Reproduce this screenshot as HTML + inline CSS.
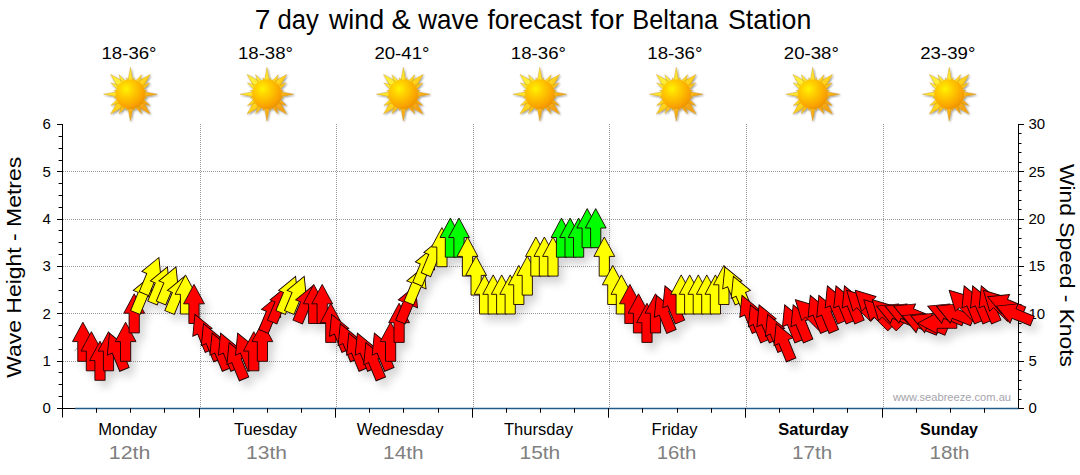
<!DOCTYPE html><html><head><meta charset="utf-8"><title>7 day wind &amp; wave forecast</title>
<style>html,body{margin:0;padding:0;background:#fff;}svg{display:block;font-family:"Liberation Sans",sans-serif;}</style></head><body>
<svg width="1080" height="475" viewBox="0 0 1080 475">
<defs>
<radialGradient id="sg" cx="0.36" cy="0.32" r="0.75"><stop offset="0" stop-color="#fff200"/><stop offset="0.35" stop-color="#ffcc00"/><stop offset="0.8" stop-color="#f9a200"/><stop offset="1" stop-color="#e88e00"/></radialGradient>
<linearGradient id="rg" x1="0" y1="0" x2="1" y2="1"><stop offset="0.25" stop-color="#ffee38"/><stop offset="0.5" stop-color="#ffd21e"/><stop offset="0.74" stop-color="#f5a316"/></linearGradient>
<filter id="sh" x="-30%" y="-30%" width="180%" height="180%"><feGaussianBlur in="SourceAlpha" stdDeviation="4.2"/><feOffset dx="5" dy="7" result="b"/><feComponentTransfer><feFuncA type="linear" slope="0.17"/></feComponentTransfer></filter>
<filter id="ssh" x="-30%" y="-30%" width="160%" height="160%"><feGaussianBlur in="SourceAlpha" stdDeviation="0.8"/><feOffset dx="0.8" dy="0.8"/><feComponentTransfer><feFuncA type="linear" slope="0.45"/></feComponentTransfer><feMerge><feMergeNode/><feMergeNode in="SourceGraphic"/></feMerge></filter>
<g id="sun"><g filter="url(#ssh)"><path d="M-2.50 -13.00L0.00 -26.80L2.50 -13.00ZM1.66 -12.96L3.82 -16.56L4.19 -12.37ZM4.42 -12.46L11.30 -19.57L8.58 -10.06ZM6.29 -12.09L19.80 -19.80L12.09 -6.29ZM10.06 -8.58L19.57 -11.30L12.46 -4.42ZM12.37 -4.19L16.56 -3.82L12.96 -1.66ZM13.00 -2.50L26.80 -0.00L13.00 2.50ZM12.96 1.66L16.56 3.82L12.37 4.19ZM12.46 4.42L19.57 11.30L10.06 8.58ZM12.09 6.29L19.80 19.80L6.29 12.09ZM8.58 10.06L11.30 19.57L4.42 12.46ZM4.19 12.37L3.82 16.56L1.66 12.96ZM2.50 13.00L0.00 26.80L-2.50 13.00ZM-1.66 12.96L-3.82 16.56L-4.19 12.37ZM-4.42 12.46L-11.30 19.57L-8.58 10.06ZM-6.29 12.09L-19.80 19.80L-12.09 6.29ZM-10.06 8.58L-19.57 11.30L-12.46 4.42ZM-12.37 4.19L-16.56 3.82L-12.96 1.66ZM-13.00 2.50L-26.80 0.00L-13.00 -2.50ZM-12.96 -1.66L-16.56 -3.82L-12.37 -4.19ZM-12.46 -4.42L-19.57 -11.30L-10.06 -8.58ZM-12.09 -6.29L-19.80 -19.80L-6.29 -12.09ZM-8.58 -10.06L-11.30 -19.57L-4.42 -12.46ZM-4.19 -12.37L-3.82 -16.56L-1.66 -12.96Z" fill="url(#rg)" stroke="#c98a00" stroke-width="0.35"/><circle cx="0" cy="0" r="14.8" fill="url(#sg)"/></g></g>
<path id="ar" d="M0 -19.9L10.4 -0.5L5.1 -0.5L5.1 19.2L-5.1 19.2L-5.1 -0.5L-10.4 -0.5Z"/>
</defs>
<rect width="1080" height="475" fill="#fff"/>
<text transform="translate(254.75 29.3) scale(1.0462 1)" font-size="27" fill="#000">7</text>
<text transform="translate(277.55 29.3) scale(0.9512 1)" font-size="27" fill="#000">day</text>
<text transform="translate(328.90 29.3) scale(0.9944 1)" font-size="27" fill="#000">wind</text>
<text transform="translate(391.54 29.3) scale(1.0647 1)" font-size="27" fill="#000">&amp;</text>
<text transform="translate(418.30 29.3) scale(0.9629 1)" font-size="27" fill="#000">wave</text>
<text transform="translate(487.50 29.3) scale(0.9823 1)" font-size="27" fill="#000">forecast</text>
<text transform="translate(590.60 29.3) scale(1.0613 1)" font-size="27" fill="#000">for</text>
<text transform="translate(632.32 29.3) scale(0.9378 1)" font-size="27" fill="#000">Beltana</text>
<text transform="translate(728.01 29.3) scale(0.9914 1)" font-size="27" fill="#000">Station</text>
<text transform="translate(101.47 58.9) scale(1.1298 1)" font-size="16.5" fill="#000">18-36°</text>
<use href="#sun" x="130.4" y="94.2"/>
<text transform="translate(237.93 58.9) scale(1.1298 1)" font-size="16.5" fill="#000">18-38°</text>
<use href="#sun" x="266.9" y="94.2"/>
<text transform="translate(374.39 58.9) scale(1.1298 1)" font-size="16.5" fill="#000">20-41°</text>
<use href="#sun" x="403.3" y="94.2"/>
<text transform="translate(510.85 58.9) scale(1.1298 1)" font-size="16.5" fill="#000">18-36°</text>
<use href="#sun" x="539.8" y="94.2"/>
<text transform="translate(647.31 58.9) scale(1.1298 1)" font-size="16.5" fill="#000">18-36°</text>
<use href="#sun" x="676.2" y="94.2"/>
<text transform="translate(783.77 58.9) scale(1.1298 1)" font-size="16.5" fill="#000">20-38°</text>
<use href="#sun" x="812.7" y="94.2"/>
<text transform="translate(920.23 58.9) scale(1.1298 1)" font-size="16.5" fill="#000">23-39°</text>
<use href="#sun" x="949.2" y="94.2"/>
<line x1="63.0" y1="361.5" x2="1019.0" y2="361.5" stroke="#999" stroke-width="1" stroke-dasharray="1 1"/>
<line x1="63.0" y1="313.5" x2="1019.0" y2="313.5" stroke="#999" stroke-width="1" stroke-dasharray="1 1"/>
<line x1="63.0" y1="266.5" x2="1019.0" y2="266.5" stroke="#999" stroke-width="1" stroke-dasharray="1 1"/>
<line x1="63.0" y1="219.5" x2="1019.0" y2="219.5" stroke="#999" stroke-width="1" stroke-dasharray="1 1"/>
<line x1="63.0" y1="171.5" x2="1019.0" y2="171.5" stroke="#999" stroke-width="1" stroke-dasharray="1 1"/>
<line x1="200.5" y1="124" x2="200.5" y2="408.0" stroke="#999" stroke-width="1" stroke-dasharray="1 1"/>
<line x1="336.5" y1="124" x2="336.5" y2="408.0" stroke="#999" stroke-width="1" stroke-dasharray="1 1"/>
<line x1="473.5" y1="124" x2="473.5" y2="408.0" stroke="#999" stroke-width="1" stroke-dasharray="1 1"/>
<line x1="609.5" y1="124" x2="609.5" y2="408.0" stroke="#999" stroke-width="1" stroke-dasharray="1 1"/>
<line x1="746.5" y1="124" x2="746.5" y2="408.0" stroke="#999" stroke-width="1" stroke-dasharray="1 1"/>
<line x1="883.5" y1="124" x2="883.5" y2="408.0" stroke="#999" stroke-width="1" stroke-dasharray="1 1"/>
<line x1="75" y1="408.5" x2="1019.0" y2="408.5" stroke="#1f5c8a" stroke-width="1.4"/>
<path d="M62.5 124V417.5M57 408.5H75M1018.5 124V408.5M57 408.5H62.5M58.6 396.5H62.5M58.6 384.5H62.5M58.6 372.5H62.5M57 361.5H62.5M58.6 349.5H62.5M58.6 337.5H62.5M58.6 325.5H62.5M57 313.5H62.5M58.6 302.5H62.5M58.6 290.5H62.5M58.6 278.5H62.5M57 266.5H62.5M58.6 254.5H62.5M58.6 242.5H62.5M58.6 230.5H62.5M57 219.5H62.5M58.6 207.5H62.5M58.6 195.5H62.5M58.6 183.5H62.5M57 171.5H62.5M58.6 160.5H62.5M58.6 148.5H62.5M58.6 136.5H62.5M57 124.5H62.5M1018.5 408.5H1024M1018.5 399.5H1021.5M1018.5 389.5H1021.5M1018.5 380.5H1021.5M1018.5 370.5H1021.5M1018.5 361.5H1024M1018.5 351.5H1021.5M1018.5 342.5H1021.5M1018.5 332.5H1021.5M1018.5 323.5H1021.5M1018.5 313.5H1024M1018.5 304.5H1021.5M1018.5 294.5H1021.5M1018.5 285.5H1021.5M1018.5 275.5H1021.5M1018.5 266.5H1024M1018.5 257.5H1021.5M1018.5 247.5H1021.5M1018.5 238.5H1021.5M1018.5 228.5H1021.5M1018.5 219.5H1024M1018.5 209.5H1021.5M1018.5 200.5H1021.5M1018.5 190.5H1021.5M1018.5 181.5H1021.5M1018.5 171.5H1024M1018.5 162.5H1021.5M1018.5 152.5H1021.5M1018.5 143.5H1021.5M1018.5 133.5H1021.5M1018.5 124.5H1024M96.5 408V412.8M130.5 408V412.8M164.5 408V412.8M199.5 408V417.7M233.5 408V412.8M267.5 408V412.8M301.5 408V412.8M335.5 408V417.7M369.5 408V412.8M403.5 408V412.8M438.5 408V412.8M472.5 408V417.7M506.5 408V412.8M540.5 408V412.8M574.5 408V412.8M608.5 408V417.7M642.5 408V412.8M677.5 408V412.8M711.5 408V412.8M745.5 408V417.7M779.5 408V412.8M813.5 408V412.8M847.5 408V412.8M882.5 408V417.7M916.5 408V412.8M950.5 408V412.8M984.5 408V412.8" stroke="#000" stroke-width="1" fill="none"/>
<text x="50.8" y="413.3" font-size="15" text-anchor="end" fill="#000">0</text>
<text x="50.8" y="366.0" font-size="15" text-anchor="end" fill="#000">1</text>
<text x="50.8" y="318.6" font-size="15" text-anchor="end" fill="#000">2</text>
<text x="50.8" y="271.3" font-size="15" text-anchor="end" fill="#000">3</text>
<text x="50.8" y="224.0" font-size="15" text-anchor="end" fill="#000">4</text>
<text x="50.8" y="176.6" font-size="15" text-anchor="end" fill="#000">5</text>
<text x="50.8" y="129.3" font-size="15" text-anchor="end" fill="#000">6</text>
<text x="1028.5" y="413.3" font-size="15" fill="#000">0</text>
<text x="1028.5" y="366.0" font-size="15" fill="#000">5</text>
<text x="1028.5" y="318.6" font-size="15" fill="#000">10</text>
<text x="1028.5" y="271.3" font-size="15" fill="#000">15</text>
<text x="1028.5" y="224.0" font-size="15" fill="#000">20</text>
<text x="1028.5" y="176.6" font-size="15" fill="#000">25</text>
<text x="1028.5" y="129.3" font-size="15" fill="#000">30</text>
<text transform="translate(20.5 377.8) rotate(-90)" font-size="20" textLength="221" lengthAdjust="spacingAndGlyphs" fill="#000">Wave Height - Metres</text>
<text transform="translate(1060 164) rotate(90)" font-size="20" textLength="203" lengthAdjust="spacingAndGlyphs" fill="#000">Wind Speed - Knots</text>
<text x="893" y="400.6" font-size="11" textLength="118" lengthAdjust="spacingAndGlyphs" fill="#a4a4ac">www.seabreeze.com.au</text>
<text transform="translate(98.26 434.5) scale(1.0357 1)" font-size="16" fill="#000">Monday</text>
<text transform="translate(108.78 458.7) scale(1.2188 1)" font-size="17.5" fill="#808080">12th</text>
<text transform="translate(234.00 434.5) scale(1.0377 1)" font-size="16" fill="#000">Tuesday</text>
<text transform="translate(246.10 458.7) scale(1.2000 1)" font-size="17.5" fill="#808080">13th</text>
<text transform="translate(356.70 434.5) scale(1.0310 1)" font-size="16" fill="#000">Wednesday</text>
<text transform="translate(383.11 458.7) scale(1.1875 1)" font-size="17.5" fill="#808080">14th</text>
<text transform="translate(504.00 434.5) scale(1.0343 1)" font-size="16" fill="#000">Thursday</text>
<text transform="translate(519.50 458.7) scale(1.1969 1)" font-size="17.5" fill="#808080">15th</text>
<text transform="translate(651.57 434.5) scale(1.0341 1)" font-size="16" fill="#000">Friday</text>
<text transform="translate(656.63 458.7) scale(1.1656 1)" font-size="17.5" fill="#808080">16th</text>
<text transform="translate(778.27 434.5) scale(1.0299 1)" font-size="16" font-weight="bold" fill="#000">Saturday</text>
<text transform="translate(792.12 458.7) scale(1.1781 1)" font-size="17.5" fill="#808080">17th</text>
<text transform="translate(919.99 434.5) scale(1.0053 1)" font-size="16" font-weight="bold" fill="#000">Sunday</text>
<text transform="translate(929.53 458.7) scale(1.1750 1)" font-size="17.5" fill="#808080">18th</text>
<g filter="url(#sh)">
<use href="#ar" transform="translate(82.9 342.1) rotate(0)" fill="#000"/>
<use href="#ar" transform="translate(91.4 351.6) rotate(0)" fill="#000"/>
<use href="#ar" transform="translate(100.0 361.1) rotate(0)" fill="#000"/>
<use href="#ar" transform="translate(108.5 351.6) rotate(0)" fill="#000"/>
<use href="#ar" transform="translate(117.1 351.6) rotate(-22.5)" fill="#000"/>
<use href="#ar" transform="translate(125.6 342.1) rotate(0)" fill="#000"/>
<use href="#ar" transform="translate(134.2 313.7) rotate(0)" fill="#000"/>
<use href="#ar" transform="translate(142.7 294.8) rotate(22.5)" fill="#000"/>
<use href="#ar" transform="translate(151.3 275.9) rotate(22.5)" fill="#000"/>
<use href="#ar" transform="translate(159.8 285.3) rotate(22.5)" fill="#000"/>
<use href="#ar" transform="translate(168.4 285.3) rotate(22.5)" fill="#000"/>
<use href="#ar" transform="translate(176.9 294.8) rotate(22.5)" fill="#000"/>
<use href="#ar" transform="translate(185.5 294.8) rotate(0)" fill="#000"/>
<use href="#ar" transform="translate(194.0 304.3) rotate(0)" fill="#000"/>
<use href="#ar" transform="translate(202.6 332.7) rotate(-22.5)" fill="#000"/>
<use href="#ar" transform="translate(211.1 342.1) rotate(-22.5)" fill="#000"/>
<use href="#ar" transform="translate(219.7 351.6) rotate(-22.5)" fill="#000"/>
<use href="#ar" transform="translate(228.2 351.6) rotate(-22.5)" fill="#000"/>
<use href="#ar" transform="translate(236.7 361.1) rotate(-22.5)" fill="#000"/>
<use href="#ar" transform="translate(245.3 351.6) rotate(-22.5)" fill="#000"/>
<use href="#ar" transform="translate(253.8 351.6) rotate(0)" fill="#000"/>
<use href="#ar" transform="translate(262.4 342.1) rotate(0)" fill="#000"/>
<use href="#ar" transform="translate(270.9 313.7) rotate(22.5)" fill="#000"/>
<use href="#ar" transform="translate(279.5 304.3) rotate(22.5)" fill="#000"/>
<use href="#ar" transform="translate(288.0 294.8) rotate(22.5)" fill="#000"/>
<use href="#ar" transform="translate(296.6 294.8) rotate(22.5)" fill="#000"/>
<use href="#ar" transform="translate(305.1 304.3) rotate(22.5)" fill="#000"/>
<use href="#ar" transform="translate(313.7 304.3) rotate(0)" fill="#000"/>
<use href="#ar" transform="translate(322.2 304.3) rotate(0)" fill="#000"/>
<use href="#ar" transform="translate(330.8 323.2) rotate(0)" fill="#000"/>
<use href="#ar" transform="translate(339.3 332.7) rotate(-22.5)" fill="#000"/>
<use href="#ar" transform="translate(347.9 342.1) rotate(-22.5)" fill="#000"/>
<use href="#ar" transform="translate(356.4 351.6) rotate(-22.5)" fill="#000"/>
<use href="#ar" transform="translate(365.0 351.6) rotate(-22.5)" fill="#000"/>
<use href="#ar" transform="translate(373.5 361.1) rotate(-22.5)" fill="#000"/>
<use href="#ar" transform="translate(382.0 351.6) rotate(-22.5)" fill="#000"/>
<use href="#ar" transform="translate(390.6 342.1) rotate(0)" fill="#000"/>
<use href="#ar" transform="translate(399.1 323.2) rotate(0)" fill="#000"/>
<use href="#ar" transform="translate(407.7 304.3) rotate(22.5)" fill="#000"/>
<use href="#ar" transform="translate(416.2 285.3) rotate(22.5)" fill="#000"/>
<use href="#ar" transform="translate(424.8 266.4) rotate(22.5)" fill="#000"/>
<use href="#ar" transform="translate(433.3 256.9) rotate(22.5)" fill="#000"/>
<use href="#ar" transform="translate(441.9 247.5) rotate(0)" fill="#000"/>
<use href="#ar" transform="translate(450.4 238.0) rotate(0)" fill="#000"/>
<use href="#ar" transform="translate(459.0 238.0) rotate(0)" fill="#000"/>
<use href="#ar" transform="translate(467.5 256.9) rotate(0)" fill="#000"/>
<use href="#ar" transform="translate(476.1 275.9) rotate(0)" fill="#000"/>
<use href="#ar" transform="translate(484.6 294.8) rotate(0)" fill="#000"/>
<use href="#ar" transform="translate(493.2 294.8) rotate(0)" fill="#000"/>
<use href="#ar" transform="translate(501.7 294.8) rotate(0)" fill="#000"/>
<use href="#ar" transform="translate(510.2 294.8) rotate(0)" fill="#000"/>
<use href="#ar" transform="translate(518.8 285.3) rotate(0)" fill="#000"/>
<use href="#ar" transform="translate(527.3 275.9) rotate(0)" fill="#000"/>
<use href="#ar" transform="translate(535.9 256.9) rotate(0)" fill="#000"/>
<use href="#ar" transform="translate(544.4 256.9) rotate(0)" fill="#000"/>
<use href="#ar" transform="translate(553.0 256.9) rotate(0)" fill="#000"/>
<use href="#ar" transform="translate(561.5 238.0) rotate(0)" fill="#000"/>
<use href="#ar" transform="translate(570.1 238.0) rotate(0)" fill="#000"/>
<use href="#ar" transform="translate(578.6 238.0) rotate(0)" fill="#000"/>
<use href="#ar" transform="translate(587.2 228.5) rotate(0)" fill="#000"/>
<use href="#ar" transform="translate(595.7 228.5) rotate(0)" fill="#000"/>
<use href="#ar" transform="translate(604.3 256.9) rotate(0)" fill="#000"/>
<use href="#ar" transform="translate(612.8 285.3) rotate(0)" fill="#000"/>
<use href="#ar" transform="translate(621.4 294.8) rotate(0)" fill="#000"/>
<use href="#ar" transform="translate(629.9 304.3) rotate(0)" fill="#000"/>
<use href="#ar" transform="translate(638.5 313.7) rotate(0)" fill="#000"/>
<use href="#ar" transform="translate(647.0 323.2) rotate(0)" fill="#000"/>
<use href="#ar" transform="translate(655.5 313.7) rotate(0)" fill="#000"/>
<use href="#ar" transform="translate(664.1 313.7) rotate(-22.5)" fill="#000"/>
<use href="#ar" transform="translate(672.6 304.3) rotate(-22.5)" fill="#000"/>
<use href="#ar" transform="translate(681.2 294.8) rotate(0)" fill="#000"/>
<use href="#ar" transform="translate(689.7 294.8) rotate(0)" fill="#000"/>
<use href="#ar" transform="translate(698.3 294.8) rotate(0)" fill="#000"/>
<use href="#ar" transform="translate(706.8 294.8) rotate(0)" fill="#000"/>
<use href="#ar" transform="translate(715.4 294.8) rotate(0)" fill="#000"/>
<use href="#ar" transform="translate(723.9 285.3) rotate(0)" fill="#000"/>
<use href="#ar" transform="translate(732.5 285.3) rotate(-22.5)" fill="#000"/>
<use href="#ar" transform="translate(741.0 294.8) rotate(-22.5)" fill="#000"/>
<use href="#ar" transform="translate(749.6 313.7) rotate(-22.5)" fill="#000"/>
<use href="#ar" transform="translate(758.1 323.2) rotate(-22.5)" fill="#000"/>
<use href="#ar" transform="translate(766.7 323.2) rotate(-22.5)" fill="#000"/>
<use href="#ar" transform="translate(775.2 332.7) rotate(-22.5)" fill="#000"/>
<use href="#ar" transform="translate(783.8 342.1) rotate(-22.5)" fill="#000"/>
<use href="#ar" transform="translate(792.3 323.2) rotate(-22.5)" fill="#000"/>
<use href="#ar" transform="translate(800.8 323.2) rotate(-22.5)" fill="#000"/>
<use href="#ar" transform="translate(809.4 313.7) rotate(-45)" fill="#000"/>
<use href="#ar" transform="translate(817.9 313.7) rotate(-22.5)" fill="#000"/>
<use href="#ar" transform="translate(826.5 313.7) rotate(-22.5)" fill="#000"/>
<use href="#ar" transform="translate(835.0 304.3) rotate(-22.5)" fill="#000"/>
<use href="#ar" transform="translate(843.6 304.3) rotate(-22.5)" fill="#000"/>
<use href="#ar" transform="translate(852.1 304.3) rotate(-22.5)" fill="#000"/>
<use href="#ar" transform="translate(860.7 304.3) rotate(-45)" fill="#000"/>
<use href="#ar" transform="translate(869.2 304.3) rotate(-45)" fill="#000"/>
<use href="#ar" transform="translate(877.8 313.7) rotate(-45)" fill="#000"/>
<use href="#ar" transform="translate(886.3 313.7) rotate(-45)" fill="#000"/>
<use href="#ar" transform="translate(894.9 313.7) rotate(-67.5)" fill="#000"/>
<use href="#ar" transform="translate(903.4 313.7) rotate(-67.5)" fill="#000"/>
<use href="#ar" transform="translate(912.0 313.7) rotate(-67.5)" fill="#000"/>
<use href="#ar" transform="translate(920.5 323.2) rotate(-67.5)" fill="#000"/>
<use href="#ar" transform="translate(929.1 323.2) rotate(-67.5)" fill="#000"/>
<use href="#ar" transform="translate(937.6 323.2) rotate(-90)" fill="#000"/>
<use href="#ar" transform="translate(946.1 313.7) rotate(-67.5)" fill="#000"/>
<use href="#ar" transform="translate(954.7 313.7) rotate(-67.5)" fill="#000"/>
<use href="#ar" transform="translate(963.2 304.3) rotate(-45)" fill="#000"/>
<use href="#ar" transform="translate(971.8 304.3) rotate(-22.5)" fill="#000"/>
<use href="#ar" transform="translate(980.3 304.3) rotate(-22.5)" fill="#000"/>
<use href="#ar" transform="translate(988.9 304.3) rotate(-22.5)" fill="#000"/>
<use href="#ar" transform="translate(997.4 304.3) rotate(-45)" fill="#000"/>
<use href="#ar" transform="translate(1006.0 304.3) rotate(-67.5)" fill="#000"/>
<use href="#ar" transform="translate(1014.5 313.7) rotate(-67.5)" fill="#000"/>
</g>
<path d="M74.6 351.2L77.6 347.4" stroke="#8a8a8a" stroke-width="0.7" fill="none"/>
<g stroke="#1a0000" stroke-width="0.9" stroke-linejoin="miter">
<use href="#ar" transform="translate(82.9 342.1) rotate(0)" fill="#ff0000"/>
<use href="#ar" transform="translate(91.4 351.6) rotate(0)" fill="#ff0000"/>
<use href="#ar" transform="translate(100.0 361.1) rotate(0)" fill="#ff0000"/>
<use href="#ar" transform="translate(108.5 351.6) rotate(0)" fill="#ff0000"/>
<use href="#ar" transform="translate(117.1 351.6) rotate(-22.5)" fill="#ff0000"/>
<use href="#ar" transform="translate(125.6 342.1) rotate(0)" fill="#ff0000"/>
<use href="#ar" transform="translate(134.2 313.7) rotate(0)" fill="#ff0000"/>
<use href="#ar" transform="translate(142.7 294.8) rotate(22.5)" fill="#ffff00"/>
<use href="#ar" transform="translate(151.3 275.9) rotate(22.5)" fill="#ffff00"/>
<use href="#ar" transform="translate(159.8 285.3) rotate(22.5)" fill="#ffff00"/>
<use href="#ar" transform="translate(168.4 285.3) rotate(22.5)" fill="#ffff00"/>
<use href="#ar" transform="translate(176.9 294.8) rotate(22.5)" fill="#ffff00"/>
<use href="#ar" transform="translate(185.5 294.8) rotate(0)" fill="#ffff00"/>
<use href="#ar" transform="translate(194.0 304.3) rotate(0)" fill="#ff0000"/>
<use href="#ar" transform="translate(202.6 332.7) rotate(-22.5)" fill="#ff0000"/>
<use href="#ar" transform="translate(211.1 342.1) rotate(-22.5)" fill="#ff0000"/>
<use href="#ar" transform="translate(219.7 351.6) rotate(-22.5)" fill="#ff0000"/>
<use href="#ar" transform="translate(228.2 351.6) rotate(-22.5)" fill="#ff0000"/>
<use href="#ar" transform="translate(236.7 361.1) rotate(-22.5)" fill="#ff0000"/>
<use href="#ar" transform="translate(245.3 351.6) rotate(-22.5)" fill="#ff0000"/>
<use href="#ar" transform="translate(253.8 351.6) rotate(0)" fill="#ff0000"/>
<use href="#ar" transform="translate(262.4 342.1) rotate(0)" fill="#ff0000"/>
<use href="#ar" transform="translate(270.9 313.7) rotate(22.5)" fill="#ff0000"/>
<use href="#ar" transform="translate(279.5 304.3) rotate(22.5)" fill="#ff0000"/>
<use href="#ar" transform="translate(288.0 294.8) rotate(22.5)" fill="#ffff00"/>
<use href="#ar" transform="translate(296.6 294.8) rotate(22.5)" fill="#ffff00"/>
<use href="#ar" transform="translate(305.1 304.3) rotate(22.5)" fill="#ff0000"/>
<use href="#ar" transform="translate(313.7 304.3) rotate(0)" fill="#ff0000"/>
<use href="#ar" transform="translate(322.2 304.3) rotate(0)" fill="#ff0000"/>
<use href="#ar" transform="translate(330.8 323.2) rotate(0)" fill="#ff0000"/>
<use href="#ar" transform="translate(339.3 332.7) rotate(-22.5)" fill="#ff0000"/>
<use href="#ar" transform="translate(347.9 342.1) rotate(-22.5)" fill="#ff0000"/>
<use href="#ar" transform="translate(356.4 351.6) rotate(-22.5)" fill="#ff0000"/>
<use href="#ar" transform="translate(365.0 351.6) rotate(-22.5)" fill="#ff0000"/>
<use href="#ar" transform="translate(373.5 361.1) rotate(-22.5)" fill="#ff0000"/>
<use href="#ar" transform="translate(382.0 351.6) rotate(-22.5)" fill="#ff0000"/>
<use href="#ar" transform="translate(390.6 342.1) rotate(0)" fill="#ff0000"/>
<use href="#ar" transform="translate(399.1 323.2) rotate(0)" fill="#ff0000"/>
<use href="#ar" transform="translate(407.7 304.3) rotate(22.5)" fill="#ff0000"/>
<use href="#ar" transform="translate(416.2 285.3) rotate(22.5)" fill="#ffff00"/>
<use href="#ar" transform="translate(424.8 266.4) rotate(22.5)" fill="#ffff00"/>
<use href="#ar" transform="translate(433.3 256.9) rotate(22.5)" fill="#ffff00"/>
<use href="#ar" transform="translate(441.9 247.5) rotate(0)" fill="#ffff00"/>
<use href="#ar" transform="translate(450.4 238.0) rotate(0)" fill="#00ff00"/>
<use href="#ar" transform="translate(459.0 238.0) rotate(0)" fill="#00ff00"/>
<use href="#ar" transform="translate(467.5 256.9) rotate(0)" fill="#ffff00"/>
<use href="#ar" transform="translate(476.1 275.9) rotate(0)" fill="#ffff00"/>
<use href="#ar" transform="translate(484.6 294.8) rotate(0)" fill="#ffff00"/>
<use href="#ar" transform="translate(493.2 294.8) rotate(0)" fill="#ffff00"/>
<use href="#ar" transform="translate(501.7 294.8) rotate(0)" fill="#ffff00"/>
<use href="#ar" transform="translate(510.2 294.8) rotate(0)" fill="#ffff00"/>
<use href="#ar" transform="translate(518.8 285.3) rotate(0)" fill="#ffff00"/>
<use href="#ar" transform="translate(527.3 275.9) rotate(0)" fill="#ffff00"/>
<use href="#ar" transform="translate(535.9 256.9) rotate(0)" fill="#ffff00"/>
<use href="#ar" transform="translate(544.4 256.9) rotate(0)" fill="#ffff00"/>
<use href="#ar" transform="translate(553.0 256.9) rotate(0)" fill="#ffff00"/>
<use href="#ar" transform="translate(561.5 238.0) rotate(0)" fill="#00ff00"/>
<use href="#ar" transform="translate(570.1 238.0) rotate(0)" fill="#00ff00"/>
<use href="#ar" transform="translate(578.6 238.0) rotate(0)" fill="#00ff00"/>
<use href="#ar" transform="translate(587.2 228.5) rotate(0)" fill="#00ff00"/>
<use href="#ar" transform="translate(595.7 228.5) rotate(0)" fill="#00ff00"/>
<use href="#ar" transform="translate(604.3 256.9) rotate(0)" fill="#ffff00"/>
<use href="#ar" transform="translate(612.8 285.3) rotate(0)" fill="#ffff00"/>
<use href="#ar" transform="translate(621.4 294.8) rotate(0)" fill="#ffff00"/>
<use href="#ar" transform="translate(629.9 304.3) rotate(0)" fill="#ff0000"/>
<use href="#ar" transform="translate(638.5 313.7) rotate(0)" fill="#ff0000"/>
<use href="#ar" transform="translate(647.0 323.2) rotate(0)" fill="#ff0000"/>
<use href="#ar" transform="translate(655.5 313.7) rotate(0)" fill="#ff0000"/>
<use href="#ar" transform="translate(664.1 313.7) rotate(-22.5)" fill="#ff0000"/>
<use href="#ar" transform="translate(672.6 304.3) rotate(-22.5)" fill="#ff0000"/>
<use href="#ar" transform="translate(681.2 294.8) rotate(0)" fill="#ffff00"/>
<use href="#ar" transform="translate(689.7 294.8) rotate(0)" fill="#ffff00"/>
<use href="#ar" transform="translate(698.3 294.8) rotate(0)" fill="#ffff00"/>
<use href="#ar" transform="translate(706.8 294.8) rotate(0)" fill="#ffff00"/>
<use href="#ar" transform="translate(715.4 294.8) rotate(0)" fill="#ffff00"/>
<use href="#ar" transform="translate(723.9 285.3) rotate(0)" fill="#ffff00"/>
<use href="#ar" transform="translate(732.5 285.3) rotate(-22.5)" fill="#ffff00"/>
<use href="#ar" transform="translate(741.0 294.8) rotate(-22.5)" fill="#ffff00"/>
<use href="#ar" transform="translate(749.6 313.7) rotate(-22.5)" fill="#ff0000"/>
<use href="#ar" transform="translate(758.1 323.2) rotate(-22.5)" fill="#ff0000"/>
<use href="#ar" transform="translate(766.7 323.2) rotate(-22.5)" fill="#ff0000"/>
<use href="#ar" transform="translate(775.2 332.7) rotate(-22.5)" fill="#ff0000"/>
<use href="#ar" transform="translate(783.8 342.1) rotate(-22.5)" fill="#ff0000"/>
<use href="#ar" transform="translate(792.3 323.2) rotate(-22.5)" fill="#ff0000"/>
<use href="#ar" transform="translate(800.8 323.2) rotate(-22.5)" fill="#ff0000"/>
<use href="#ar" transform="translate(809.4 313.7) rotate(-45)" fill="#ff0000"/>
<use href="#ar" transform="translate(817.9 313.7) rotate(-22.5)" fill="#ff0000"/>
<use href="#ar" transform="translate(826.5 313.7) rotate(-22.5)" fill="#ff0000"/>
<use href="#ar" transform="translate(835.0 304.3) rotate(-22.5)" fill="#ff0000"/>
<use href="#ar" transform="translate(843.6 304.3) rotate(-22.5)" fill="#ff0000"/>
<use href="#ar" transform="translate(852.1 304.3) rotate(-22.5)" fill="#ff0000"/>
<use href="#ar" transform="translate(860.7 304.3) rotate(-45)" fill="#ff0000"/>
<use href="#ar" transform="translate(869.2 304.3) rotate(-45)" fill="#ff0000"/>
<use href="#ar" transform="translate(877.8 313.7) rotate(-45)" fill="#ff0000"/>
<use href="#ar" transform="translate(886.3 313.7) rotate(-45)" fill="#ff0000"/>
<use href="#ar" transform="translate(894.9 313.7) rotate(-67.5)" fill="#ff0000"/>
<use href="#ar" transform="translate(903.4 313.7) rotate(-67.5)" fill="#ff0000"/>
<use href="#ar" transform="translate(912.0 313.7) rotate(-67.5)" fill="#ff0000"/>
<use href="#ar" transform="translate(920.5 323.2) rotate(-67.5)" fill="#ff0000"/>
<use href="#ar" transform="translate(929.1 323.2) rotate(-67.5)" fill="#ff0000"/>
<use href="#ar" transform="translate(937.6 323.2) rotate(-90)" fill="#ff0000"/>
<use href="#ar" transform="translate(946.1 313.7) rotate(-67.5)" fill="#ff0000"/>
<use href="#ar" transform="translate(954.7 313.7) rotate(-67.5)" fill="#ff0000"/>
<use href="#ar" transform="translate(963.2 304.3) rotate(-45)" fill="#ff0000"/>
<use href="#ar" transform="translate(971.8 304.3) rotate(-22.5)" fill="#ff0000"/>
<use href="#ar" transform="translate(980.3 304.3) rotate(-22.5)" fill="#ff0000"/>
<use href="#ar" transform="translate(988.9 304.3) rotate(-22.5)" fill="#ff0000"/>
<use href="#ar" transform="translate(997.4 304.3) rotate(-45)" fill="#ff0000"/>
<use href="#ar" transform="translate(1006.0 304.3) rotate(-67.5)" fill="#ff0000"/>
<use href="#ar" transform="translate(1014.5 313.7) rotate(-67.5)" fill="#ff0000"/>
</g>
</svg></body></html>
